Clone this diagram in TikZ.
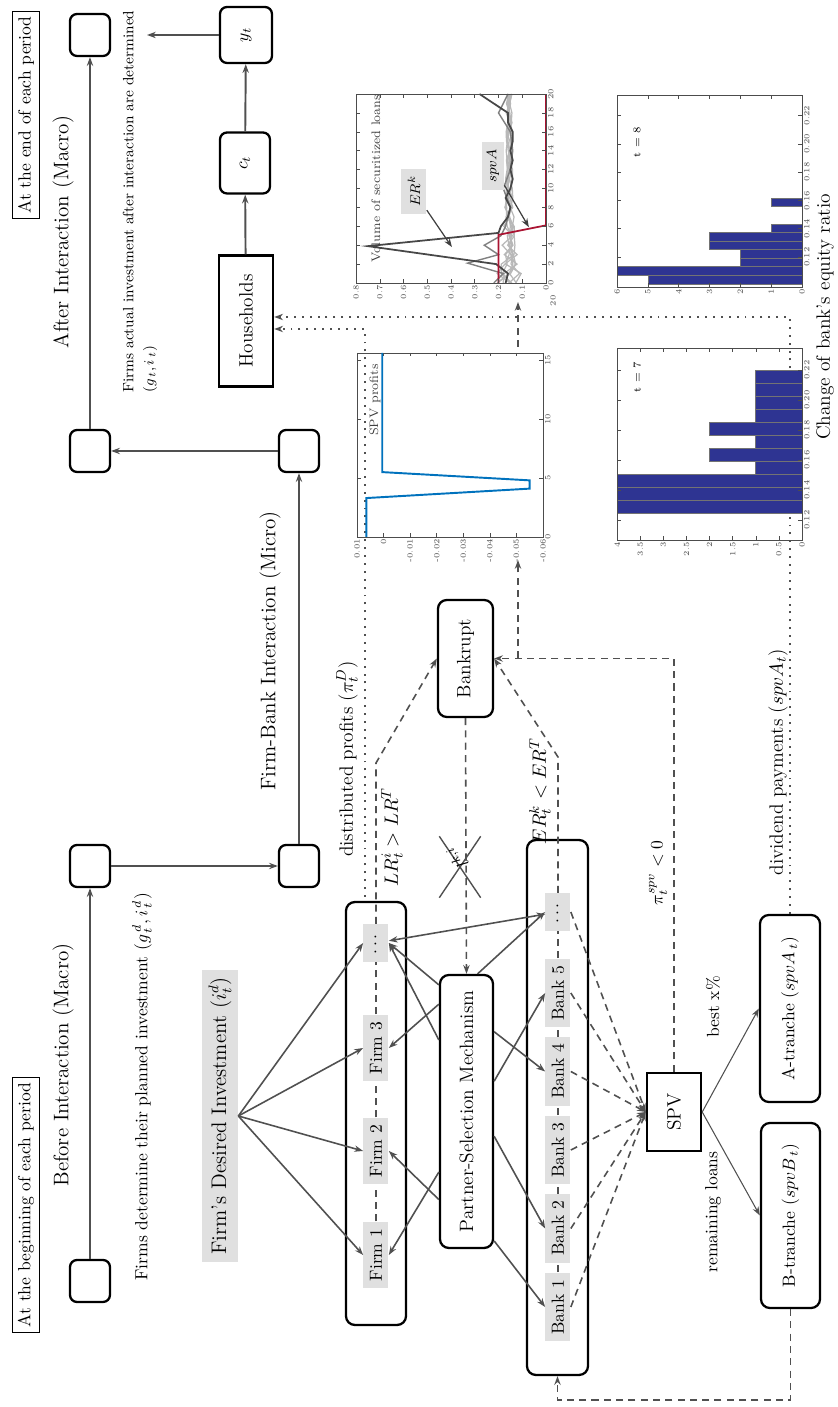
\documentclass[tikz,border=0pt]{standalone}
\usepackage{amsmath, amssymb}
\usepackage{xcolor}
\usetikzlibrary{arrows.meta, positioning, calc, shapes}
\definecolor{linegray}{RGB}{80, 80, 80}
\definecolor{tagfill}{RGB}{224, 224, 224}
\definecolor{barblue}{RGB}{46, 52, 146}
\definecolor{profitblue}{RGB}{0, 114, 189}
\definecolor{volred}{RGB}{170, 20, 50}
\tikzset{
  stage/.style={draw=black, line width=1.3pt, rounded corners=4pt, minimum width=0.84cm, minimum height=0.8cm},
  agent/.style={draw=black, line width=1.3pt, rounded corners=5pt},
  sharp/.style={draw=black, line width=1.4pt},
  tag/.style={fill=tagfill, inner xsep=4pt, inner ysep=1pt, minimum height=0.5cm},
  link/.style={linegray, line width=0.9pt, ->},
  dlink/.style={linegray, line width=0.9pt, dash pattern=on 4pt off 3pt},
  plink/.style={linegray, line width=1.1pt, dash pattern=on 1.1pt off 3.4pt},
  ticklab/.style={font=\fontsize{4.5}{5}\selectfont, text=black!70, inner sep=1pt},
  axbox/.style={draw=black!70, line width=0.5pt},
  tk/.style={black!70, line width=0.3pt},
  mid/.style={font=\fontsize{11}{13}\selectfont},
}
\begin{document}
\begin{tikzpicture}[x=0.02cm, y=0.02cm, rotate=90, transform shape,
  >={Stealth[length=5pt, width=3.6pt]}]
\useasboundingbox (0,0) rectangle (1407,838);

% macro time line
\node[draw, line width=0.5pt, inner sep=3pt] (tbegin) at (202,812) {At the beginning of each period};
\node[draw, line width=0.5pt, inner sep=3pt] (tend) at (1292,812) {At the end of each period};
\node[font=\large] (before) at (342,775) {Before Interaction (Macro)};
\node[font=\large] (after) at (1175,775) {After Interaction (Macro)};
\node[font=\large] (micro) at (756,568) {Firm-Bank Interaction (Micro)};

\node[stage] (s1) at (126,748) {};
\node[stage] (s2) at (541,748) {};
\node[stage] (s3) at (541,539) {};
\node[stage] (s4) at (956,539) {};
\node[stage] (s5) at (956,748) {};
\node[stage] (s6) at (1372,748) {};
\draw[link, line width=1.1pt] (s1) -- (s2);
\draw[link, line width=1.1pt] (s2) -- (s3);
\draw[link, line width=1.1pt] (s3) -- (s4);
\draw[link, line width=1.1pt] (s4) -- (s5);
\draw[link, line width=1.1pt] (s5) -- (s6);

\node[anchor=west] (plan) at (120,696) {Firms determine their planned investment $(g^{\,d}_{\,t}, i^{\,d}_{\,t})$};
\node[anchor=west, align=left, font=\fontsize{8.5}{11.5}\selectfont] (actual) at (1008,698)
  {Firms actual investment after interaction are determined\\$(g_{\,t}, i_{\,t})$};

% households
\node[sharp, mid, minimum width=2.62cm, minimum height=1.08cm] (hh) at (1086,592) {Households};
\node[stage, minimum width=1.22cm, minimum height=1.0cm] (ct) at (1244,593) {$c_t$};
\node[stage, minimum width=1.12cm, minimum height=1.04cm] (yt) at (1372,592) {$y_t$};
\coordinate (yout) at (1372,691);
\draw[link, line width=1.1pt] (hh) -- (ct);
\draw[link, line width=1.1pt] (ct) -- (yt);
\draw[link, line width=1.1pt] (yt) -- (yout);

% firms
\node[tag, font=\large, minimum width=5.64cm, minimum height=0.72cm] (fdi) at (291,618) {Firm's Desired Investment ($i^d_t$)};
\node[agent, minimum width=8.46cm, minimum height=1.2cm] (firmbox) at (293.5,462) {};
\foreach \k/\u in {1/152, 2/256, 3/359}
  \node[tag, minimum width=1.32cm] (firm\k) at (\u,462) {Firm \k};
\node[tag, minimum width=0.74cm] (firmdots) at (464,462) {$\cdots$};

% banks
\node[agent, minimum width=10.7cm, minimum height=1.22cm] (bankbox) at (299.5,280.5) {};
\foreach \k/\u in {1/100, 2/178.5, 3/257, 4/335.5, 5/414}
  \node[tag, minimum width=1.3cm] (bank\k) at (\u,280) {Bank \k};
\node[tag, minimum width=0.74cm] (bankdots) at (495,280) {$\cdots$};

\node[agent, mid, minimum width=5.46cm, minimum height=1.06cm] (psm) at (295.5,371.5) {Partner-Selection Mechanism};
\node[agent, mid, minimum width=2.34cm, minimum height=1.1cm] (bankrupt) at (748.5,372.5) {Bankrupt};
\node[sharp, mid, minimum width=1.56cm, minimum height=1.08cm] (spv) at (295,164) {SPV};
\node[agent, minimum width=3.74cm, minimum height=1.2cm] (atr) at (398.5,48) {A-tranche ($spvA_{\,t}$)};
\node[agent, minimum width=3.7cm, minimum height=1.18cm] (btr) at (191.5,47.5) {B-tranche ($spvB_{\,t}$)};

% desired investment to firms
\foreach \f in {firm1, firm2, firm3, firmdots}
  \draw[link] (fdi.south) -- (\f.north);

% partner selection
\draw[link] ($(psm.north west)!.28!(psm.north east)$) -- (firm1.south);
\draw[link] ($(psm.north west)!.18!(psm.north east)$) -- (firm2.south);
\draw[link] ($(psm.north west)!.89!(psm.north east)$) -- (firm3.south);
\draw[link] ($(psm.north west)!.96!(psm.north east)$) -- (firmdots.south);
\draw[link] ($(psm.north west)!.76!(psm.north east)$) -- (firmdots.south);
\draw[link] ($(psm.south west)!.03!(psm.south east)$) -- (bank1.north);
\draw[link] ($(psm.south west)!.41!(psm.south east)$) -- (bank2.north);
\draw[link] ($(psm.south west)!.79!(psm.south east)$) -- (bank4.north);
\draw[link] ($(psm.south west)!.61!(psm.south east)$) -- (bank5.north);
\draw[link] ($(psm.south east)!.3!(psm.north east)$) -- (bankdots.north);
\draw[link, <->] (firmdots) -- (bankdots);

% bankruptcy
\foreach \a/\b in {firm1/firm2, firm2/firm3, firm3/firmdots}
  \draw[dlink] (\a) -- (\b);
\coordinate (lrturn) at (644,462);
\draw[dlink, ->] (firmdots) -- (lrturn) -- (bankrupt.north);
\foreach \a/\b in {bank1/bank2, bank2/bank3, bank3/bank4, bank4/bank5, bank5/bankdots}
  \draw[dlink] (\a) -- (\b);
\coordinate (erturn) at (650,280);
\draw[dlink, ->] (bankdots) -- (erturn) -- (bankrupt.south);
\draw[dlink, ->] (bankrupt.west) -- (psm.east);
\node[cross out, draw=linegray, line width=0.8pt, minimum width=1.2cm, minimum height=0.8cm] (nolink) at (540,378) {};
\node[rotate=30, font=\fontsize{10}{12}\selectfont] (lki) at (550,381) {$l^{k,i}$};
\node[mid] (lrlab) at (570,446) {$LR^i_t > LR^T$};
\node[mid] (erlab) at (616,298) {$ER^k_t < ER^T$};

% securitisation
\foreach \b in {bank1, bank2, bank3, bank4, bank5, bankdots}
  \draw[dlink, ->] (\b.south) -- (spv.north);
\draw[link, line width=0.6pt] (spv.south) -- (atr.north);
\draw[link, line width=0.6pt] (spv.south) -- (btr.north);
\node (best) at (400,125) {best x\%};
\node (remain) at (195,125) {remaining loans};
\coordinate (spvturn) at (748.5,164);
\draw[dlink, ->] (spv.east) -- (spvturn) -- (bankrupt.south);
\node (spvlab) at (534,180) {$\pi^{spv}_t < 0$};
\coordinate (loopa) at (7,47.5);
\coordinate (loopb) at (7,280.5);
\draw[dlink, ->] (btr.west) -- (loopa) -- (loopb) -- (bankbox.west);

% payments to households
\coordinate (profturn) at (1078,473);
\draw[plink, ->] ($(firmbox.east)+(4,11)$) -- (profturn) -- ($(hh.south)+(-8,0)$);
\coordinate (divturn) at (1090,48);
\draw[plink, ->] (atr.east) -- (divturn) -- ($(hh.south)+(4,0)$);
\node[mid] (distlab) at (648,491) {distributed profits ($\pi^D_t$)};
\node[mid] (divlab) at (645,60) {dividend payments ($spvA_t$)};

% plots chained
\coordinate (jn) at (748.5,320);
\coordinate (profin) at (847,320);
\coordinate (profout) at (1060,320);
\coordinate (volin) at (1105,320);
\draw[dlink, ->] (jn) -- (profin);
\draw[dlink, ->] (profout) -- (volin);

% SPV profits
\begin{scope}[shift={(870,454.4)}, x=0.236cm, y=53.14cm]
  \draw[axbox] (0,-0.06) rectangle (15.6,0.01);
  \foreach \t in {0,5,10,15} {
    \draw[tk] (\t,-0.06) -- ++(0,2pt) (\t,0.01) -- ++(0,-2pt);
    \node[ticklab, anchor=north] at (\t,-0.06) {\t};
  }
  \foreach \v in {0.01,0,-0.01,-0.02,-0.03,-0.04,-0.05,-0.06} {
    \draw[tk] (0,\v) -- ++(2pt,0) (15.6,\v) -- ++(-2pt,0);
    \node[ticklab, anchor=east] at (0,\v) {\v};
  }
  \node[font=\fontsize{7}{8}\selectfont, text=black!75] (proftitle) at (11.6,0.0032) {SPV profits};
  \draw[profitblue, line width=1.1pt] (0,0.0065) -- (3.3,0.0065) -- (4.1,-0.055) -- (4.8,-0.055) -- (5.5,0.0005) -- (15.6,0.0005);
\end{scope}

% Volume of securitized loans
\begin{scope}[shift={(1124,292)}, x=0.189cm, y=4.75cm]
  \pgfmathsetseed{4}
  \foreach \k in {1,...,9}
    \draw[black!28, line width=0.7pt] plot[domain=0:20, samples=21] (\x, {0.155+(0.012+0.05*exp(-\x/4))*rand});
  \draw[black!50, line width=0.8pt] plot coordinates {(0,0.22) (1,0.18) (2.1,0.33) (3,0.2) (4,0.26) (5,0.19) (6,0.17) (8,0.15) (10,0.18) (12,0.15) (14,0.14) (16,0.15) (18,0.2) (20,0.16)};
  \draw[black!72, line width=1pt] plot coordinates {(0,0.17) (1,0.16) (2,0.21) (3.9,0.75) (5.3,0.2) (6,0.19) (7,0.16) (8,0.15) (9,0.17) (10,0.15) (11,0.14) (12,0.15) (13,0.14) (14,0.15) (15,0.14) (16,0.14) (17,0.16) (18,0.16) (19,0.22) (20,0.28)};
  \draw[volred, line width=1pt] (0,0.2) -- (5.1,0.2) -- (6.1,0) -- (20,0);
  \draw[axbox] (0,0) rectangle (20,0.8);
  \foreach \t in {0,2,...,20} {
    \draw[tk] (\t,0) -- ++(0,2pt) (\t,0.8) -- ++(0,-2pt);
    \node[ticklab, anchor=north] at (\t,0) {\t};
  }
  \foreach \v in {0,0.1,0.2,0.3,0.4,0.5,0.6,0.7,0.8} {
    \draw[tk] (0,\v) -- ++(2pt,0) (20,\v) -- ++(-2pt,0);
    \node[ticklab, anchor=east] at (0,\v) {\v};
  }
  \node[ticklab] at (-1.9,-0.03) {20};
  \node[font=\fontsize{7}{8}\selectfont, text=black!75] (voltitle) at (11.06,0.716) {Volume of securitized loans};
  \node[tag, font=\fontsize{8}{9}\selectfont, minimum width=0.84cm] (ertag) at (9.7,0.556) {$ER^k$};
  \node[tag, font=\fontsize{8}{9}\selectfont, minimum width=0.9cm, minimum height=0.44cm] (spvtag) at (12.4,0.223) {$spvA$};
  \draw[->, black!75, line width=0.7pt] (ertag) -- (3.8,0.396);
  \draw[->, black!75, line width=0.7pt] (spvtag) -- (5.9,0.072);
\end{scope}

% histogram t = 7
\begin{scope}[shift={(707,36)}, x=30cm, y=0.924cm]
  \foreach \n [count=\i from 0] in {4,4,4,1,2,1,2,1,1,1,1}
    \filldraw[fill=barblue, draw=black!55, line width=0.4pt] ({0.1247+\i*0.00867},0) rectangle ++(0.00867,\n);
  \draw[axbox] (0.1067,0) rectangle (0.2347,4);
  \foreach \r in {0.12,0.14,0.16,0.18,0.20,0.22} {
    \draw[tk] (\r,0) -- ++(0,2pt) (\r,4) -- ++(0,-2pt);
    \node[ticklab, anchor=north] at (\r,0) {\r};
  }
  \foreach \v in {0,0.5,1,1.5,2,2.5,3,3.5,4} {
    \draw[tk] (0.1067,\v) -- ++(2pt,0) (0.2347,\v) -- ++(-2pt,0);
    \node[ticklab, anchor=east] at (0.1067,\v) {\v};
  }
  \node[font=\fontsize{6}{7}\selectfont] (tseven) at (0.2153,3.57) {t = 7};
\end{scope}

% histogram t = 8
\begin{scope}[shift={(980.2,36)}, x=28.3cm, y=0.6167cm]
  \foreach \i/\n in {0/5, 1/6, 2/2, 3/2, 4/3, 5/3, 6/1, 9/1}
    \filldraw[fill=barblue, draw=black!55, line width=0.4pt] ({0.1009+\i*0.00608},0) rectangle ++(0.00608,\n);
  \draw[axbox] (0.0988,0) rectangle (0.2345,6);
  \foreach \r in {0.12,0.14,0.16,0.18,0.20,0.22} {
    \draw[tk] (\r,0) -- ++(0,2pt) (\r,6) -- ++(0,-2pt);
    \node[ticklab, anchor=north] at (\r,0) {\r};
  }
  \foreach \v in {0,...,6} {
    \draw[tk] (0.0988,\v) -- ++(2pt,0) (0.2345,\v) -- ++(-2pt,0);
    \node[ticklab, anchor=east] at (0.0988,\v) {\v};
  }
  \node[font=\fontsize{6}{7}\selectfont] (teight) at (0.2013,5.35) {t = 8};
\end{scope}
\node[mid] (eqlabel) at (1090,13) {Change of bank's equity ratio};

\end{tikzpicture}
\end{document}
